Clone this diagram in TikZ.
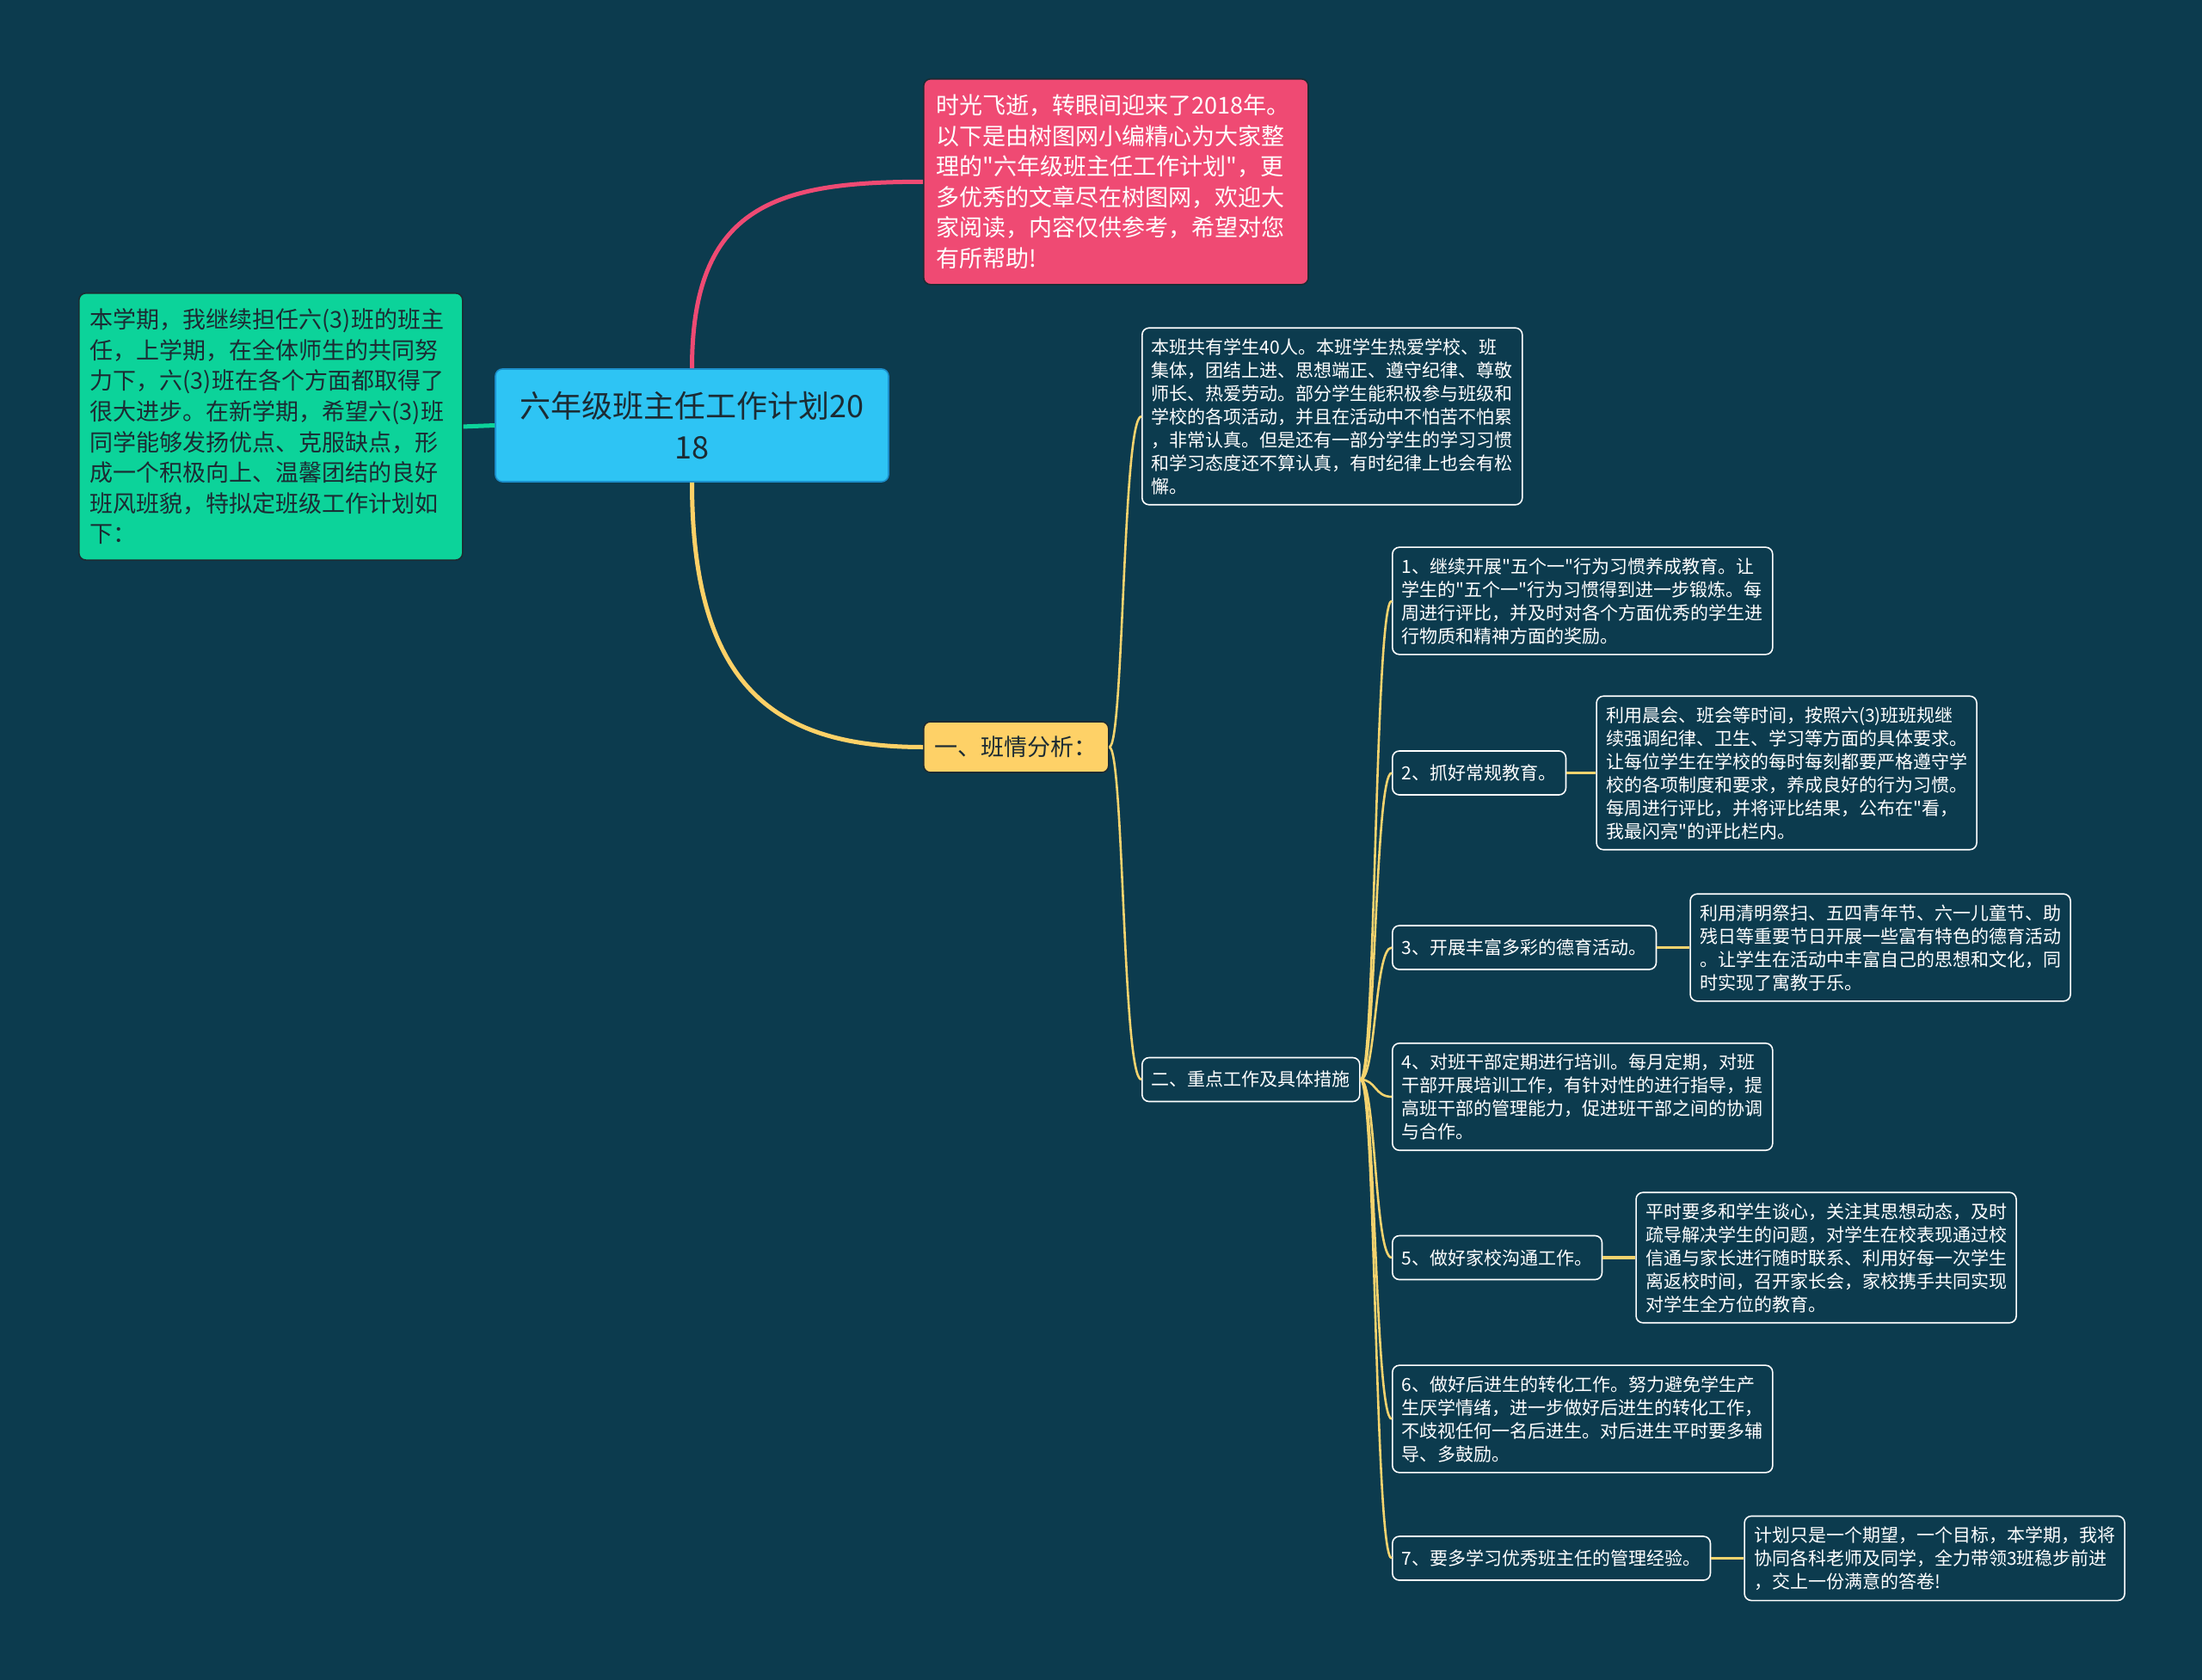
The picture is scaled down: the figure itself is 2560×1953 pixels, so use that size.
\documentclass[tikz,border=0pt]{standalone}
\usepackage{fontspec}
\setmainfont{Noto Sans CJK SC}[Ligatures=TeXOff]
\usetikzlibrary{positioning}
\definecolor{bg}{HTML}{0C3B4E}
\definecolor{sky}{HTML}{2EC4F4}
\definecolor{skyline}{HTML}{1C8FCB}
\definecolor{rose}{HTML}{EF4A73}
\definecolor{mint}{HTML}{0CD39A}
\definecolor{sun}{HTML}{FED167}
\definecolor{sunline}{HTML}{F4D36E}
\definecolor{ink}{HTML}{1C2B33}
\tikzset{
  box/.style={draw=white, line width=0.8pt, rounded corners=4pt, fill=bg, text=white, align=left, inner xsep=5.5pt, inner ysep=6pt, minimum height=25.5pt, font=\fontsize{10.5}{13.5}\selectfont},
  widebox/.style={box, text width=210pt},
  rootbox/.style={draw=skyline, line width=0.8pt, rounded corners=4pt, fill=sky, text=ink, align=center, minimum width=228.5pt, minimum height=65.5pt, font=\fontsize{18}{24}\selectfont},
  rosebox/.style={draw=ink, line width=0.8pt, rounded corners=4pt, fill=rose, text=white, align=left, inner xsep=7.3pt, inner ysep=9pt, text width=209pt, font=\fontsize{13.5}{17.8}\selectfont},
  mintbox/.style={draw=ink, line width=0.8pt, rounded corners=4pt, fill=mint, text=ink, align=left, inner xsep=6.5pt, inner ysep=9pt, text width=210pt, font=\fontsize{13.5}{17.8}\selectfont},
  sunbox/.style={draw=ink, line width=0.8pt, rounded corners=4pt, fill=sun, text=ink, inner xsep=6.5pt, minimum height=29.5pt, font=\fontsize{13.5}{17}\selectfont},
  roselink/.style={line width=2.5pt, draw=rose},
  mintlink/.style={line width=2.5pt, draw=mint},
  sunlink/.style={line width=2.5pt, draw=sun},
  link/.style={line width=1.3pt, draw=sunline},
  stublink/.style={line width=1.6pt, draw=sunline}
}
\begin{document}
\begin{tikzpicture}[x=0.5pt, y=-0.5pt]
\useasboundingbox (0,0) rectangle (2560,1953);
\fill[bg] (0,0) rectangle (2560,1953);
\node[rootbox] (ctr) at (804.5,494.5) {六年级班主任工作计划20\\18};
\node[rosebox, anchor=north west] (tip) at (1073,91) {时光飞逝，转眼间迎来了2018年。\\以下是由树图网小编精心为大家整\\理的"六年级班主任工作计划"，更\\多优秀的文章尽在树图网，欢迎大\\家阅读，内容仅供参考，希望对您\\有所帮助!};
\node[mintbox, anchor=north west] (intro) at (91,340) {本学期，我继续担任六(3)班的班主\\任，上学期，在全体师生的共同努\\力下，六(3)班在各个方面都取得了\\很大进步。在新学期，希望六(3)班\\同学能够发扬优点、克服缺点，形\\成一个积极向上、温馨团结的良好\\班风班貌，特拟定班级工作计划如\\下：};
\node[sunbox, anchor=west] (ana) at (1073,868.5) {一、班情分析：};
\draw[roselink] (ctr.north) .. controls +(0,-190) and +(-170,0) .. (tip.west);
\draw[sunlink] (ctr.south) .. controls +(0,240) and +(-170,0) .. (ana.west);
\draw[mintlink] (ctr.west) -- (intro.east);
\node[widebox, anchor=west] (cls) at (1327,484) {本班共有学生40人。本班学生热爱学校、班\\集体，团结上进、思想端正、遵守纪律、尊敬\\师长、热爱劳动。部分学生能积极参与班级和\\学校的各项活动，并且在活动中不怕苦不怕累\\，非常认真。但是还有一部分学生的学习习惯\\和学习态度还不算认真，有时纪律上也会有松\\懈。};
\node[box, anchor=west] (work) at (1327,1255) {二、重点工作及具体措施};
\draw[link] (ana.east) .. controls +(17,0) and +(-22,0) .. (cls.west);
\draw[link] (ana.east) .. controls +(17,0) and +(-22,0) .. (work.west);
\node[widebox, anchor=west] (w1) at (1618,698.5) {1、继续开展"五个一"行为习惯养成教育。让\\学生的"五个一"行为习惯得到进一步锻炼。每\\周进行评比，并及时对各个方面优秀的学生进\\行物质和精神方面的奖励。};
\node[box, anchor=west] (w2) at (1618,898.5) {2、抓好常规教育。};
\node[widebox, right=17pt of w2] (d2) {利用晨会、班会等时间，按照六(3)班班规继\\续强调纪律、卫生、学习等方面的具体要求。\\让每位学生在学校的每时每刻都要严格遵守学\\校的各项制度和要求，养成良好的行为习惯。\\每周进行评比，并将评比结果，公布在"看，\\我最闪亮"的评比栏内。};
\node[box, anchor=west] (w3) at (1618,1101.5) {3、开展丰富多彩的德育活动。};
\node[widebox, right=19pt of w3] (d3) {利用清明祭扫、五四青年节、六一儿童节、助\\残日等重要节日开展一些富有特色的德育活动\\。让学生在活动中丰富自己的思想和文化，同\\时实现了寓教于乐。};
\node[widebox, anchor=west] (w4) at (1618,1275) {4、对班干部定期进行培训。每月定期，对班\\干部开展培训工作，有针对性的进行指导，提\\高班干部的管理能力，促进班干部之间的协调\\与合作。};
\node[box, anchor=west] (w5) at (1618,1462) {5、做好家校沟通工作。};
\node[widebox, right=19pt of w5] (d5) {平时要多和学生谈心，关注其思想动态，及时\\疏导解决学生的问题，对学生在校表现通过校\\信通与家长进行随时联系、利用好每一次学生\\离返校时间，召开家长会，家校携手共同实现\\对学生全方位的教育。};
\node[widebox, anchor=west] (w6) at (1618,1649.5) {6、做好后进生的转化工作。努力避免学生产\\生厌学情绪，进一步做好后进生的转化工作，\\不歧视任何一名后进生。对后进生平时要多辅\\导、多鼓励。};
\node[box, anchor=west] (w7) at (1618,1811.5) {7、要多学习优秀班主任的管理经验。};
\node[widebox, right=19pt of w7] (d7) {计划只是一个期望，一个目标，本学期，我将\\协同各科老师及同学，全力带领3班稳步前进\\，交上一份满意的答卷!};
\foreach \w in {w1,w2,w3,w4,w5,w6,w7}
  \draw[link] (work.east) .. controls +(18,0) and +(-20,0) .. (\w.west);
\draw[stublink] (w2.east) -- (d2.west); \draw[stublink] (w3.east) -- (d3.west);
\draw[stublink] (w5.east) -- (d5.west); \draw[stublink] (w7.east) -- (d7.west);
\end{tikzpicture}
\end{document}
